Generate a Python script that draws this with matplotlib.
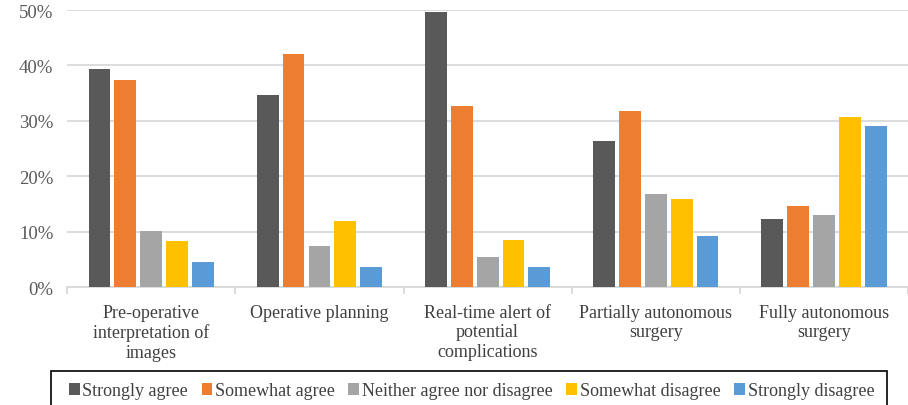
import matplotlib
matplotlib.use("Agg")
import matplotlib.pyplot as plt
from matplotlib import font_manager
from matplotlib.patches import Rectangle
import numpy as np

categories = ["Pre-operative\ninterpretation of\nimages", "Operative planning",
              "Real-time alert of\npotential\ncomplications", "Partially autonomous\nsurgery",
              "Fully autonomous\nsurgery"]
series_names = ["Strongly agree", "Somewhat agree", "Neither agree nor disagree",
                "Somewhat disagree", "Strongly disagree"]
strongly_agree = [39.4, 34.7, 49.6, 26.3, 12.3]
somewhat_agree = [37.4, 42.1, 32.7, 31.7, 14.7]
neither = [10.1, 7.4, 5.5, 16.7, 13.0]
somewhat_disagree = [8.3, 12.0, 8.4, 15.8, 30.7]
strongly_disagree = [4.6, 3.7, 3.7, 9.2, 29.0]
yticks = [0, 10, 20, 30, 40, 50]
colors = ["#595959", "#ED7D31", "#A5A5A5", "#FFC000", "#5B9BD5"]

names = {f.name for f in font_manager.fontManager.ttflist}
serif = [n for n in ["Liberation Serif", "Nimbus Roman", "Times New Roman", "DejaVu Serif"] if n in names]
plt.rcParams['font.family'] = 'serif'
plt.rcParams['font.serif'] = serif + ['DejaVu Serif']

W, H = 908, 406
fig = plt.figure(figsize=(W / 100, H / 100), dpi=100)
ax = fig.add_axes([0.074, 0.2906, 0.926, 0.6823])

x = np.arange(len(categories))
pitch = 0.154
width = 0.13
data = [strongly_agree, somewhat_agree, neither, somewhat_disagree, strongly_disagree]
for i, (vals, name, c) in enumerate(zip(data, series_names, colors)):
    ax.bar(x + (i - 2) * pitch, vals, width=width, color=c, label=name, zorder=3)

ax.set_xlim(-0.5, len(categories) - 0.5)
ax.set_ylim(0, 50)
ax.set_yticks(yticks)
ax.set_yticklabels([f"{v}%" for v in yticks], fontsize=13.5, color="#595959")
ax.yaxis.grid(True, color="#d9d9d9", linewidth=1.3, zorder=0)
ax.tick_params(axis='y', length=0, pad=10)

ax.set_xticks(x)
ax.set_xticklabels(categories, fontsize=13, color="#404040", linespacing=1.2)
ax.set_xticks(np.arange(-0.5, len(categories), 1.0), minor=True)
ax.tick_params(axis='x', which='major', length=0, pad=12)
ax.tick_params(axis='x', which='minor', length=5, color="#d9d9d9", width=1.3)

for s in ["left", "right", "top"]:
    ax.spines[s].set_visible(False)
ax.spines["bottom"].set_color("#d9d9d9")
ax.spines["bottom"].set_linewidth(1.3)

# legend frame (runs off the bottom edge as in the reference)
fig.patches.append(Rectangle((51 / W, (H - 424) / H), (887 - 51) / W, 52 / H,
                             transform=fig.transFigure, fill=False,
                             edgecolor="#000000", linewidth=1.2, zorder=5))
leg = fig.legend(loc="center", bbox_to_anchor=(471.5 / W, (H - 392) / H),
                 ncol=5, fontsize=13, frameon=False,
                 handlelength=0.6, handleheight=0.6, handletextpad=0.15,
                 columnspacing=0.75, borderaxespad=0, borderpad=0)
for t in leg.get_texts():
    t.set_color("#404040")

fig.savefig("out.png", dpi=100)
